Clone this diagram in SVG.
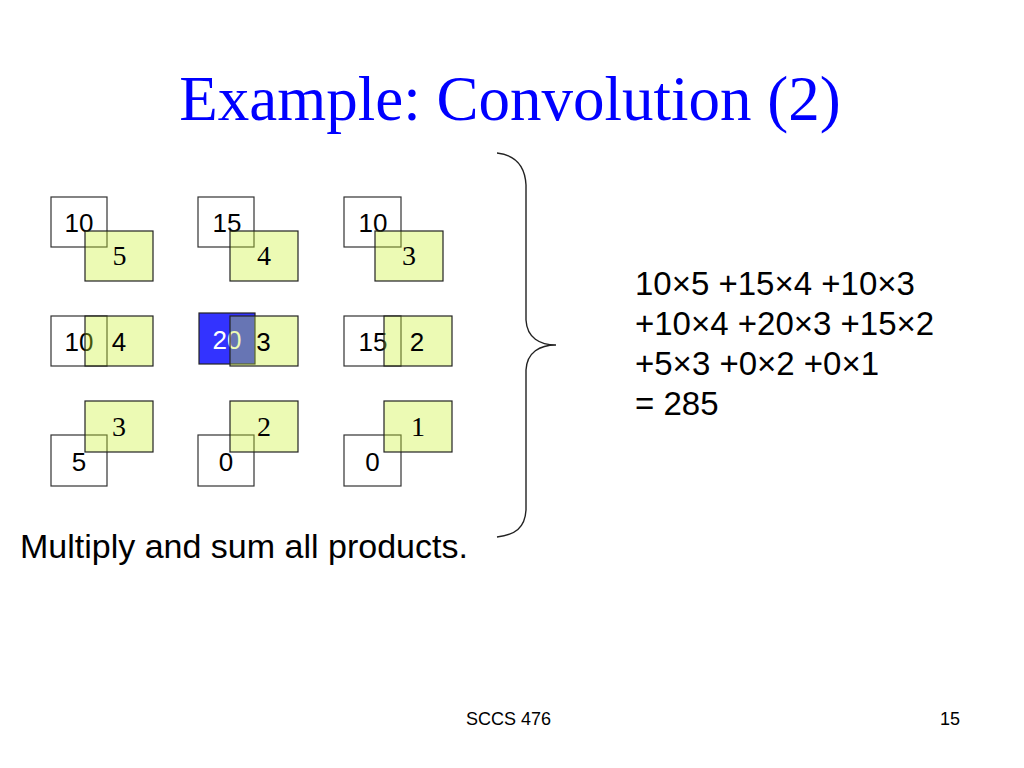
<svg xmlns="http://www.w3.org/2000/svg" width="1024" height="768" viewBox="0 0 1024 768">
<style>
.wb{fill:#ffffff;stroke:#333333;stroke-width:1.2}
.gb{fill:#c8f028;fill-opacity:0.35;stroke:#222222;stroke-width:1.2}
.bb{fill:#3333ff;stroke:#222222;stroke-width:1.2}
.sn{font-family:"Liberation Sans",Arial,sans-serif;font-size:26px;fill:#000;text-anchor:middle}
.rn{font-family:"Liberation Serif","Times New Roman",serif;font-size:28px;fill:#000;text-anchor:middle}
.eq{font-family:"Liberation Sans",Arial,sans-serif;font-size:33px;fill:#000}
</style>
<rect width="1024" height="768" fill="#ffffff"/>
<text id="title" x="510" y="120" font-family="Liberation Serif,'Times New Roman',serif" font-size="63" fill="#0000ff" text-anchor="middle">Example: Convolution (2)</text>

<g id="cell-r1c1">
<rect class="wb" x="51" y="197" width="56" height="50"/>
<text class="sn" x="79" y="232">10</text>
<rect class="gb" x="85" y="231" width="68" height="50"/>
<text class="rn" x="119.5" y="265">5</text>
</g>
<g id="cell-r1c2">
<rect class="wb" x="198" y="197" width="56" height="50"/>
<text class="sn" x="227" y="232">15</text>
<rect class="gb" x="230" y="231" width="68" height="50"/>
<text class="rn" x="264" y="265">4</text>
</g>
<g id="cell-r1c3">
<rect class="wb" x="344" y="197" width="57" height="50"/>
<text class="sn" x="373" y="232">10</text>
<rect class="gb" x="375" y="231" width="68" height="50"/>
<text class="rn" x="409" y="265">3</text>
</g>

<g id="cell-r2c1">
<rect class="wb" x="51" y="316" width="56" height="50"/>
<text class="sn" x="79" y="351">10</text>
<rect class="gb" x="85" y="316" width="68" height="50"/>
<text class="sn" x="119" y="351">4</text>
</g>
<g id="cell-r2c2">
<rect class="bb" x="199" y="313" width="56" height="51"/>
<text class="sn" x="227" y="349" style="fill:#ffffff">20</text>
<rect class="gb" x="230" y="316" width="68" height="50"/>
<text class="sn" x="263.5" y="351">3</text>
</g>
<g id="cell-r2c3">
<rect class="wb" x="344" y="316" width="57" height="50"/>
<text class="sn" x="373" y="351">15</text>
<rect class="gb" x="384" y="316" width="68" height="50"/>
<text class="sn" x="417" y="351">2</text>
</g>

<g id="cell-r3c1">
<rect class="wb" x="51" y="435" width="56" height="51"/>
<text class="sn" x="79" y="471">5</text>
<rect class="gb" x="85" y="401" width="68" height="51"/>
<text class="rn" x="119" y="436">3</text>
</g>
<g id="cell-r3c2">
<rect class="wb" x="198" y="435" width="56" height="51"/>
<text class="sn" x="226" y="471">0</text>
<rect class="gb" x="230" y="401" width="68" height="51"/>
<text class="rn" x="264" y="436">2</text>
</g>
<g id="cell-r3c3">
<rect class="wb" x="344" y="435" width="57" height="51"/>
<text class="sn" x="372.5" y="471">0</text>
<rect class="gb" x="384" y="401" width="68" height="51"/>
<text class="rn" x="418" y="436">1</text>
</g>

<g id="connectors">
<path id="brace" d="M497,153 C515,155 525,165 526,185 L526,320 C527,338 540,345 556,345 C540,345 527,352 526,370 L526,510 C525,528 515,535 497,537" fill="none" stroke="#222222" stroke-width="1.4"/>
</g>

<g id="equation">
<text class="eq" x="635" y="295">10×5 +15×4 +10×3</text>
<text class="eq" x="635" y="335">+10×4 +20×3 +15×2</text>
<text class="eq" x="635" y="375">+5×3 +0×2 +0×1</text>
<text class="eq" x="635" y="415">= 285</text>
</g>

<text id="caption" x="20" y="558" font-family="Liberation Sans,Arial,sans-serif" font-size="34" fill="#000">Multiply and sum all products.</text>
<text id="footer" x="466" y="725" font-family="Liberation Sans,Arial,sans-serif" font-size="18" fill="#000">SCCS 476</text>
<text id="page" x="960" y="725" font-family="Liberation Sans,Arial,sans-serif" font-size="18" fill="#000" text-anchor="end">15</text>
</svg>
